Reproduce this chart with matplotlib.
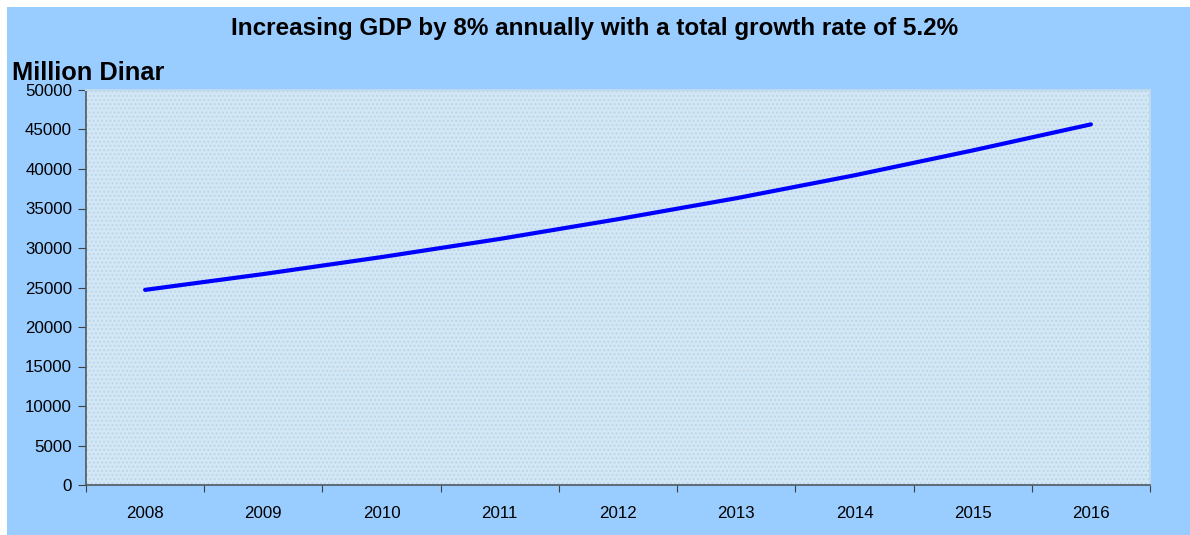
import matplotlib.pyplot as plt
from matplotlib.patches import Rectangle
import numpy as np

plt.rcParams['font.family'] = ['Liberation Sans', 'DejaVu Sans']

# GDP values (million dinar)
years = ['2008', '2009', '2010', '2011', '2012', '2013', '2014', '2015', '2016']
gdp = [24700, 26700, 28850, 31150, 33650, 36300, 39200, 42350, 45650]

fig = plt.figure(figsize=(11.9, 5.35), dpi=100, facecolor='white')
# blue background panel (small white margin on top and left)
fig.patches.append(Rectangle((7 / 1190, 0), 1, (535 - 7) / 535,
                             transform=fig.transFigure, facecolor='#99CCFF',
                             edgecolor='none', zorder=-1))

ax = fig.add_axes([86 / 1190, 50 / 535, 1064 / 1190, 395 / 535])
ax.set_facecolor('#D3E7F5')
ax.add_patch(Rectangle((0, 0), 1, 1, transform=ax.transAxes, facecolor='none',
                       edgecolor='#BBD7EC', hatch='....', linewidth=0, zorder=0))

x = np.arange(len(years))
ax.plot(x, gdp, color='#0000FF', linewidth=3, solid_capstyle='round', zorder=3)

ax.set_xlim(-0.5, len(years) - 0.5)
ax.set_ylim(0, 50000)
ax.set_yticks(np.arange(0, 50001, 5000))
ax.set_xticks(np.arange(-0.5, len(years), 1))
ax.set_xticklabels([])
ax.set_xticks(x, minor=True)
ax.set_xticklabels(years, minor=True)
ax.tick_params(axis='x', which='minor', length=0, pad=15, labelsize=12.2)
ax.tick_params(axis='x', which='major', length=5, color='#404040', direction='out')
ax.tick_params(axis='y', length=6, color='#404040', direction='out', pad=4, labelsize=12.2)

for s in ['left', 'bottom']:
    ax.spines[s].set_color('#505860')
    ax.spines[s].set_linewidth(1.2)
for s in ['top', 'right']:
    ax.spines[s].set_color('#BCD9EE')
    ax.spines[s].set_linewidth(1.5)

fig.text(0.5, 1 - 28 / 535, 'Increasing GDP by 8% annually with a total growth rate of 5.2%',
         ha='center', va='center', fontsize=17.5, fontweight='bold')
fig.text(12 / 1190, 1 - 80 / 535, 'Million Dinar', ha='left', va='baseline',
         fontsize=18.3, fontweight='bold')

plt.savefig('out.png', dpi=100)
plt.close()
